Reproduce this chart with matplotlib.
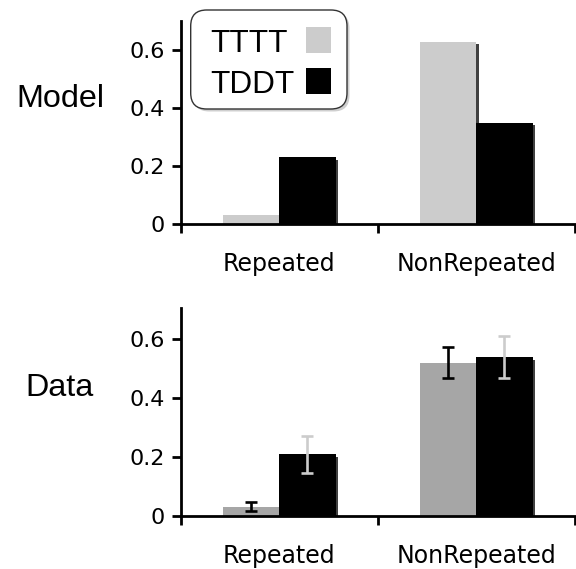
import matplotlib
matplotlib.use("Agg")
import matplotlib.pyplot as plt
import matplotlib.patheffects as pe
from matplotlib.patches import FancyBboxPatch, Rectangle
import numpy as np


categories = ["Repeated", "NonRepeated"]
series_names = ["TTTT", "TDDT"]
y_ticks = [0, 0.2, 0.4, 0.6]
y_tick_labels = ["0", "0.2", "0.4", "0.6"]

model_tttt = [0.031, 0.631]
model_tddt = [0.231, 0.351]

data_tttt = [0.032, 0.521]
data_tddt = [0.209, 0.539]
data_tttt_err = [0.014, 0.053]
data_tddt_err = [0.062, 0.071]

LIGHT = "#cccccc"
MID = "#a6a6a6"
BAR_W = 0.287

fig = plt.figure(figsize=(5.76, 5.69), dpi=100)

shadow = [pe.SimplePatchShadow(offset=(2.0, -2.0), shadow_rgbFace="k", alpha=0.75), pe.Normal()]


def style_axes(ax, ytop):
    x = np.arange(len(categories))
    ax.set_xlim(-0.5, len(categories) - 0.5)
    ax.set_ylim(0, ytop)
    for side in ["top", "right"]:
        ax.spines[side].set_visible(False)
    for side in ["left", "bottom"]:
        ax.spines[side].set_linewidth(2.0)
    ax.set_yticks(y_ticks, labels=y_tick_labels)
    ax.set_xticks(np.arange(len(categories) + 1) - 0.5, labels=[""] * (len(categories) + 1))
    ax.set_xticks(x, labels=categories, minor=True)
    ax.tick_params(axis="both", which="major", direction="out", length=6.5, width=2.0,
                   labelsize=16, pad=5)
    ax.tick_params(axis="x", which="minor", length=0, labelsize=17, pad=20.5)
    ax.patch.set_visible(False)


# top panel: model
ax1 = fig.add_axes([0.3137, 0.6063, 0.6837, 0.3573])
x = np.arange(len(categories))
b1 = ax1.bar(x - BAR_W / 2, model_tttt, BAR_W, color=LIGHT)
b2 = ax1.bar(x + BAR_W / 2, model_tddt, BAR_W, color="black")
for bar in list(b1) + list(b2):
    bar.set_path_effects(shadow)
style_axes(ax1, 0.703)

# bottom panel: data
ax2 = fig.add_axes([0.3137, 0.0931, 0.6837, 0.3651])
c1 = ax2.bar(x - BAR_W / 2, data_tttt, BAR_W, color=MID)
c2 = ax2.bar(x + BAR_W / 2, data_tddt, BAR_W, color="black")
for bar in list(c1) + list(c2):
    bar.set_path_effects(shadow)
ax2.errorbar(x - BAR_W / 2, data_tttt, yerr=data_tttt_err, fmt="none", ecolor="black",
             elinewidth=1.9, capsize=4.3, capthick=1.9, zorder=3)
ax2.errorbar(x + BAR_W / 2, data_tddt, yerr=data_tddt_err, fmt="none", ecolor=LIGHT,
             elinewidth=1.9, capsize=4.3, capthick=1.9, zorder=3)
style_axes(ax2, 0.705)

# row labels
fig.text(60 / 576, 1 - 106.7 / 569, "Model", ha="center", va="baseline",
         fontsize=23.3, family="Liberation Sans")
fig.text(60 / 576, 1 - 395.7 / 569, "Data", ha="center", va="baseline",
         fontsize=23.3, family="Liberation Sans")

# legend box (inches from bottom-left)
tr = fig.dpi_scale_trans
fig.patches.append(FancyBboxPatch((1.932, 4.575), 1.563, 0.99,
                                  boxstyle="round,pad=0,rounding_size=0.16",
                                  transform=tr, facecolor="#a0a0a0", edgecolor="none",
                                  alpha=0.5, zorder=4))
fig.patches.append(FancyBboxPatch((1.907, 4.60), 1.563, 0.99,
                                  boxstyle="round,pad=0,rounding_size=0.16",
                                  transform=tr, facecolor="white", edgecolor="#333333",
                                  linewidth=1.0, zorder=5))
legend_colors = [LIGHT, "black"]
for i, (name, col) in enumerate(zip(series_names, legend_colors)):
    base = 5.17 - i * 0.41
    fig.text(2.10, base, name, transform=tr, ha="left", va="baseline",
             fontsize=22.7, family="Liberation Sans", zorder=6)
    fig.patches.append(Rectangle((3.055, base - 0.005), 0.25, 0.255, transform=tr,
                                 facecolor=col, edgecolor="none", zorder=6))

plt.savefig("out.png", dpi=100)
